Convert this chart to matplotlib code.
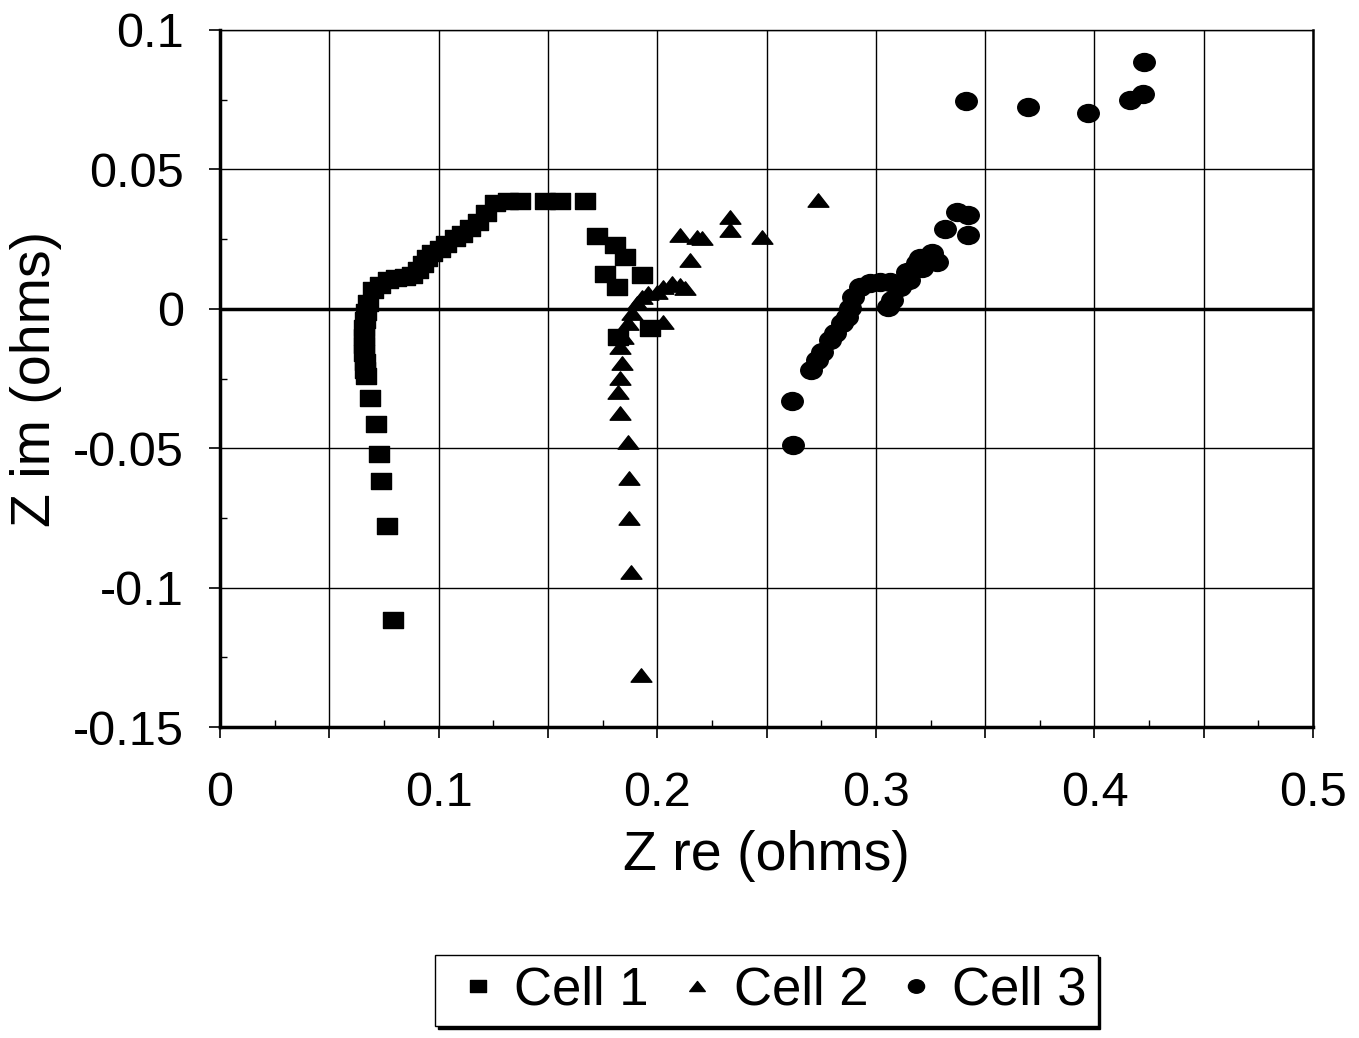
import numpy as np
import matplotlib
matplotlib.use("Agg")
import matplotlib.pyplot as plt
from matplotlib.path import Path
from matplotlib.transforms import Affine2D
from matplotlib.ticker import MultipleLocator

plt.rcParams['font.family'] = ['Liberation Sans', 'DejaVu Sans']

# Cell 1 (squares)
c1_x = [0.0793, 0.0764, 0.0737, 0.0727, 0.0713, 0.0686, 0.0668, 0.0665, 0.0662, 0.0660,
        0.0658, 0.0658, 0.0660, 0.0662, 0.0668, 0.0675, 0.0700, 0.0732, 0.0769, 0.0805,
        0.0846, 0.0878, 0.0906, 0.0929, 0.0947, 0.0970, 0.1006, 0.1034, 0.1075, 0.1107,
        0.1144, 0.1180, 0.1217, 0.1260, 0.1317, 0.1370, 0.1487, 0.1555, 0.1670, 0.1723,
        0.1807, 0.1853, 0.1761, 0.1929, 0.1815, 0.1967, 0.1820]
c1_y = [-0.1116, -0.0779, -0.0618, -0.0521, -0.0413, -0.0320, -0.0240, -0.0220, -0.0190, -0.0160,
        -0.0130, -0.0100, -0.0070, -0.0040, -0.0010, 0.0020, 0.0068, 0.0085, 0.0103, 0.0110,
        0.0114, 0.0121, 0.0139, 0.0160, 0.0182, 0.0200, 0.0214, 0.0232, 0.0254, 0.0268,
        0.0290, 0.0311, 0.0343, 0.0380, 0.0386, 0.0386, 0.0386, 0.0386, 0.0386, 0.0261,
        0.0229, 0.0187, 0.0125, 0.0121, 0.0079, -0.0069, -0.0100]

# Cell 2 (triangles)
c2_x = [0.1924, 0.1880, 0.1870, 0.1870, 0.1867, 0.1830, 0.1820, 0.1830, 0.1838, 0.1830,
        0.1845, 0.1867, 0.1885, 0.1907, 0.1930, 0.1958, 0.1999, 0.2027, 0.2068, 0.2104,
        0.2127, 0.2027, 0.2150, 0.2104, 0.2180, 0.2203, 0.2333, 0.2333, 0.2478, 0.2734]
c2_y = [-0.1314, -0.0944, -0.0750, -0.0607, -0.0478, -0.0374, -0.0298, -0.0248, -0.0196, -0.0136,
        -0.0101, -0.0051, -0.0015, 0.0020, 0.0042, 0.0057, 0.0060, 0.0078, 0.0093, 0.0085,
        0.0075, -0.0047, 0.0175, 0.0265, 0.0259, 0.0253, 0.0330, 0.0283, 0.0259, 0.0390]

# Cell 3 (circles)
c3_x = [0.2623, 0.2618, 0.2704, 0.2730, 0.2752, 0.2790, 0.2813, 0.2844, 0.2867, 0.2882,
        0.2896, 0.2928, 0.2973, 0.3019, 0.3065, 0.3056, 0.3073, 0.3110, 0.3150, 0.3141,
        0.3187, 0.3210, 0.3202, 0.3256, 0.3279, 0.3317, 0.3370, 0.3422, 0.3422, 0.3413,
        0.3698, 0.3972, 0.4163, 0.4224, 0.4228]
c3_y = [-0.0489, -0.0331, -0.0220, -0.0184, -0.0154, -0.0112, -0.0087, -0.0051, -0.0028, 0.0003,
        0.0043, 0.0079, 0.0092, 0.0097, 0.0097, 0.0008, 0.0032, 0.0079, 0.0103, 0.0133,
        0.0163, 0.0146, 0.0182, 0.0199, 0.0169, 0.0285, 0.0348, 0.0336, 0.0265, 0.0744,
        0.0723, 0.0701, 0.0749, 0.0770, 0.0886]

# the original picture is stretched sideways, so markers are a bit wide
stretch = Affine2D().scale(1.35, 1.0)
sq_marker = Path.unit_rectangle().transformed(Affine2D().translate(-0.5, -0.5) + stretch)
tri_marker = Path([(-0.5, -0.433), (0.5, -0.433), (0, 0.433), (-0.5, -0.433)],
                  closed=True).transformed(stretch)
circ_marker = Path.unit_circle().transformed(Affine2D().scale(1.2, 1.0))

fig = plt.figure(figsize=(13.59, 10.38), dpi=100)
ax = fig.add_axes([0.1619, 0.2996, 0.8043, 0.6715])

ax.plot(c1_x, c1_y, linestyle='none', marker=sq_marker, markersize=15, color='black', label='Cell 1')
ax.plot(c2_x, c2_y, linestyle='none', marker=tri_marker, markersize=15, color='black', label='Cell 2')
ax.plot(c3_x, c3_y, linestyle='none', marker=circ_marker, markersize=15.5, color='black', label='Cell 3')

def fmt(v, p):
    if abs(v) < 1e-9:
        return '0'
    return f'{v:g}'

def fmt_x(v, p):
    # labels only every 0.1
    if abs(round(v * 10) - v * 10) > 1e-6:
        return ''
    return fmt(v, p)

ax.set_xlim(0, 0.5)
ax.set_ylim(-0.15, 0.1)
ax.xaxis.set_major_locator(MultipleLocator(0.05))
ax.xaxis.set_minor_locator(MultipleLocator(0.025))
ax.yaxis.set_major_locator(MultipleLocator(0.05))
ax.yaxis.set_minor_locator(MultipleLocator(0.025))
ax.xaxis.set_major_formatter(plt.FuncFormatter(fmt_x))
ax.yaxis.set_major_formatter(plt.FuncFormatter(fmt))

ax.grid(True, which='major', color='black', linewidth=1.0)
ax.axhline(0, color='black', linewidth=2.5)
ax.set_axisbelow(True)

for side in ['left', 'bottom']:
    ax.spines[side].set_linewidth(2.5)
ax.spines['right'].set_linewidth(1.8)
ax.spines['top'].set_linewidth(1.0)

ax.tick_params(axis='x', which='major', direction='out', length=8, width=1.2,
               labelsize=35, pad=24)
ax.tick_params(axis='y', which='major', direction='out', length=8, width=1.2,
               labelsize=35, pad=18)
ax.tick_params(which='minor', direction='in', length=5, width=1.0)

ax.set_xlabel('Z re (ohms)', fontsize=40)
ax.set_ylabel('Z im (ohms)', fontsize=40)
ax.xaxis.set_label_coords(0.5, -0.148)
ax.yaxis.set_label_coords(-0.145, 0.5)

leg = fig.legend(loc='center', bbox_to_anchor=(0.564, 0.046), ncol=3, fontsize=38,
                 frameon=True, fancybox=False, shadow={'color': 'black', 'alpha': 1.0},
                 edgecolor='black', framealpha=1, borderpad=0.2, handletextpad=0.1,
                 columnspacing=0.3, markerscale=0.75, handlelength=1.2)
leg.get_frame().set_linewidth(1.0)

fig.savefig('out.png', dpi=100)
